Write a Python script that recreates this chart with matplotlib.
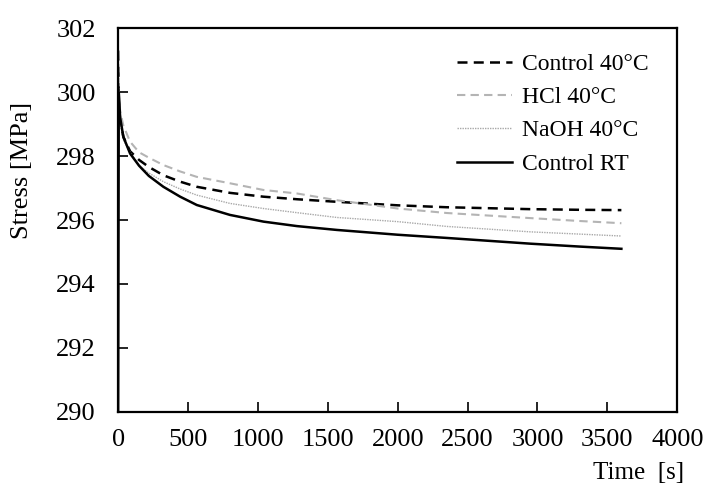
#!/usr/bin/env python3
"""
Stress relaxation curves: stress vs time for the four conditioning cases.
"""
import matplotlib.pyplot as plt

# time points [s]
time_s = [0, 5, 15, 38, 86, 150, 220, 324, 444, 563, 800, 1040, 1280,
          1565, 2000, 2350, 2950, 3300, 3600]

control_40 = [301.3, 299.8, 299.1, 298.6, 298.15, 297.88, 297.66, 297.4,
              297.2, 297.04, 296.85, 296.73, 296.65, 296.57, 296.46, 296.4,
              296.34, 296.32, 296.31]
hcl_40 = [301.3, 300.0, 299.4, 298.95, 298.45, 298.12, 297.95, 297.72,
          297.52, 297.35, 297.15, 296.94, 296.83, 296.62, 296.36, 296.22,
          296.06, 295.97, 295.9]
naoh_40 = [301.3, 299.7, 299.0, 298.5, 298.13, 297.7, 297.47, 297.2,
           296.97, 296.78, 296.52, 296.36, 296.23, 296.08, 295.95, 295.8,
           295.63, 295.56, 295.5]
# first point is the end of the loading ramp (off the bottom of the axis)
control_rt = [289.0, 300.0, 299.2, 298.6, 298.08, 297.7, 297.38, 297.04,
              296.73, 296.47, 296.16, 295.95, 295.81, 295.69, 295.54, 295.44,
              295.26, 295.17, 295.1]

labels = ['Control 40°C', 'HCl 40°C', 'NaOH 40°C', 'Control RT']

x_ticks = list(range(0, 4001, 500))
y_ticks = list(range(290, 303, 2))

plt.rcParams['font.family'] = ['Liberation Serif', 'DejaVu Serif']

fig = plt.figure(figsize=(7.07, 4.95), dpi=100)
ax = fig.add_axes([0.167, 0.168, 0.791, 0.775])

ax.plot(time_s, control_40, color='black', lw=1.8, ls=(0, (4, 2.5)),
        label=labels[0])
ax.plot(time_s, hcl_40, color='#b4b4b4', lw=1.5, ls=(0, (4, 2.5)),
        label=labels[1])
ax.plot(time_s, naoh_40, color='#a8a8a8', lw=1.0, ls=(0, (1, 0.8)),
        label=labels[2])
ax.plot(time_s, control_rt, color='black', lw=1.8, ls='-',
        label=labels[3])

ax.set_xlim(0, 4000)
ax.set_ylim(290, 302)
ax.set_xticks(x_ticks)
ax.set_yticks(y_ticks)
ax.tick_params(direction='in', length=7, width=1.2, labelsize=19,
               top=False, right=False)
ax.tick_params(axis='x', pad=12)
ax.tick_params(axis='y', pad=16)
for spine in ax.spines.values():
    spine.set_linewidth(1.6)

ax.set_xlabel('Time  [s]', fontsize=18)
ax.xaxis.set_label_coords(0.93, -0.13)
ax.set_ylabel('Stress [MPa]', fontsize=19)
ax.yaxis.set_label_coords(-0.152, 0.63)

ax.legend(loc='upper right', bbox_to_anchor=(0.987, 0.99), frameon=False,
          fontsize=17, handlelength=2.3, handletextpad=0.45,
          labelspacing=0.5)

plt.savefig('out.png', dpi=100)
